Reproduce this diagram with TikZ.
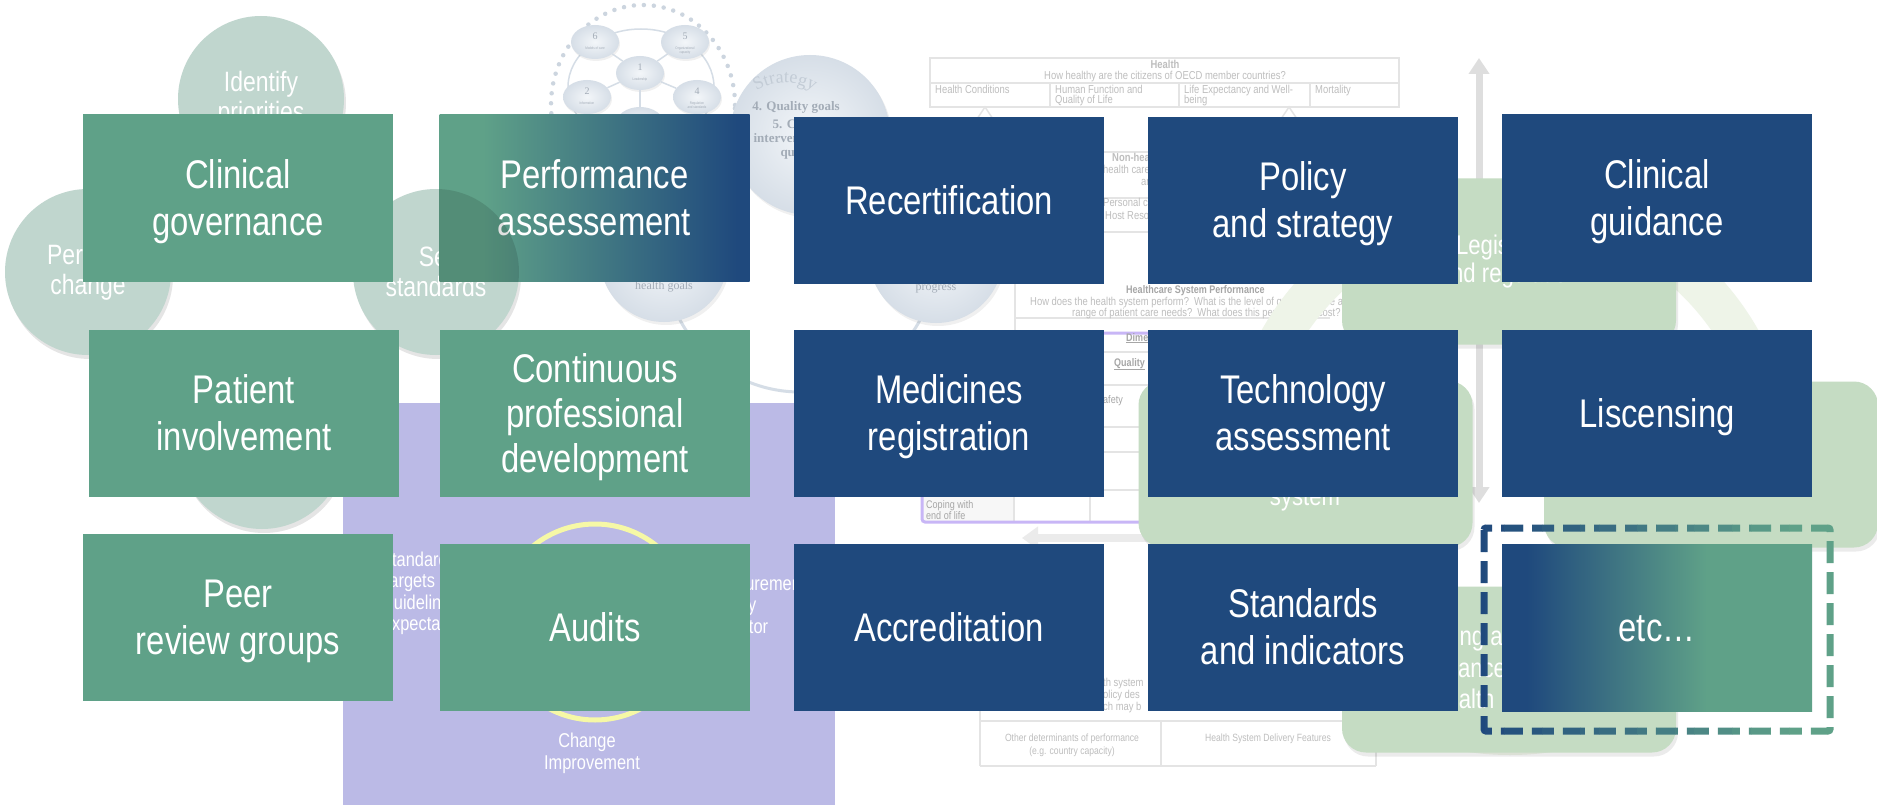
\documentclass[tikz,border=0pt]{standalone}
\usepackage{fontspec}
\setmainfont{Liberation Sans}[FakeStretch=0.82]
\newfontfamily\serifw{Liberation Serif}
\usetikzlibrary{arrows.meta,decorations.text,shadows,shapes.geometric}

\definecolor{mygreen}{HTML}{5FA188}
\definecolor{myblue}{HTML}{1F497D}
\definecolor{circg}{HTML}{C0D6CE}
\definecolor{lav}{HTML}{BBBAE6}
\definecolor{yring}{HTML}{F6F8A6}
\definecolor{legg}{HTML}{C5DCC3}
\definecolor{paleg}{HTML}{EEF4E8}
\definecolor{whoin}{HTML}{F3F6F9}
\definecolor{whoout}{HTML}{D6DEE7}
\definecolor{whoring}{HTML}{D5DDE6}
\definecolor{whodot}{HTML}{CCD5DF}
\definecolor{whotxt}{HTML}{A3ACB7}
\definecolor{whostr}{HTML}{C3CCD6}
\definecolor{purp}{HTML}{C8B6F6}
\definecolor{tline}{HTML}{E4E4E4}
\definecolor{ttxt}{HTML}{BEBEBE}
\definecolor{ptxt}{HTML}{A6A6A6}
\definecolor{arrowg}{HTML}{DEDEDE}

\newcommand{\mystrut}{\rule[-0.212em]{0pt}{1.117em}}

\pgfdeclarehorizontalshading{perfshade}{100bp}{color(0bp)=(mygreen); color(32bp)=(mygreen); color(73bp)=(myblue); color(100bp)=(myblue)}
\pgfdeclarehorizontalshading{etcshade}{100bp}{color(0bp)=(myblue); color(29bp)=(myblue); color(58bp)=(mygreen); color(100bp)=(mygreen)}

\begin{document}
\begin{tikzpicture}[x=1pt,y=-1pt,
 tile/.style={minimum width=310pt, minimum height=167pt, inner sep=0pt, align=center, text=white, font=\fontsize{40}{47}\selectfont},
 greentile/.style={tile, fill=mygreen},
 bluetile/.style={tile, fill=myblue},
 cyc/.style={circle, fill=circg, minimum size=166pt, inner sep=0pt, align=center, text=white, font=\fontsize{28}{30}\selectfont, drop shadow={shadow xshift=2pt, shadow yshift=-4pt, opacity=0.10, fill=black}},
 softrect/.style={rounded corners=24pt, fill=legg, inner sep=0pt, minimum width=334pt, minimum height=166pt, align=center, text=white, font=\fontsize{27}{28}\selectfont, drop shadow={shadow xshift=2pt, shadow yshift=-4pt, opacity=0.08, fill=black}},
 rtxt/.style={text=white, font=\fontsize{27}{28}\selectfont, inner sep=0pt},
 lavtxt/.style={text=white, font=\fontsize{20}{22}\selectfont, inner sep=0pt},
 tbl/.style={tline, line width=1.5pt},
 tbltxt/.style={text=ttxt, font=\fontsize{11.5}{12}\selectfont, inner sep=0pt},
 ptbltxt/.style={text=ptxt, font=\fontsize{11}{12}\selectfont, inner sep=0pt},
 whosmall/.style={ellipse, minimum width=48pt, minimum height=34pt, inner sep=0pt, shading=radial, inner color=whoin, outer color=whoout, drop shadow={shadow xshift=1pt, shadow yshift=-2pt, opacity=0.06, fill=black}},
 whonum/.style={text=whotxt, font=\serifw\fontsize{10}{10}\selectfont, inner sep=0pt, anchor=base},
 wholab/.style={text=whotxt, font=\fontsize{3.6}{4.2}\selectfont, inner sep=0pt, anchor=north, align=center},
 whobig/.style={circle, inner sep=0pt, shading=radial, inner color=whoin, outer color=whoout, drop shadow={shadow xshift=2pt, shadow yshift=-3pt, opacity=0.06, fill=black}},
 whotext/.style={text=whotxt, font=\serifw\bfseries\fontsize{13}{14}\selectfont, inner sep=0pt},
]
\useasboundingbox (0,0) rectangle (1877,805);
\fill[white] (0,0) rectangle (1877,805);
\begin{scope}
\clip (0,0) rectangle (1877,805);

% ---------- left cycle of circles
\node[cyc] (cyc1) at (261,99) {Identify\\priorities};
\node[cyc] (cyc2) at (88,272) {Perform\\change};
\node[cyc] (cyc3) at (436,272) {Set\\standards};
\node[cyc] (cyc4) at (262,446) {};

% ---------- lavender panel
\fill[lav] (343,403) rectangle (835,805);
\draw[yring, line width=5pt] (595,622) circle (98pt);
\foreach \t/\yy [count=\k] in {Standards/566, Targets/587, Guidelines/609, Expectations/630}
  \node[lavtxt, anchor=base west] (lavl\k) at (381,\yy) {\t};
\foreach \t/\yy [count=\k] in {Measurement/590, Quality/611, Indicator/633}
  \node[lavtxt, anchor=base west] (lavr\k) at (705,\yy) {\t};
\node[lavtxt, anchor=base] (chg) at (587,747) {Change};
\node[lavtxt, anchor=base] (imp) at (592,769) {Improvement};

% ---------- WHO strategy diagram
\draw[whoring, line width=3pt] (800,256) circle (136pt);
\draw[whodot, line width=4.5pt, line cap=round, dash pattern=on 0pt off 10pt] (643,105) ellipse [x radius=92pt, y radius=100pt];
\draw[whoring, line width=1.5pt] (641,87) ellipse [x radius=73pt, y radius=58pt];
\foreach \nm/\px/\py in {w1/640/73, w6/595/42, w5/685/42, w2/587/97, w4/697/97, w3/640/124}
  \node[whosmall] (\nm) at (\px,\py) {};
\foreach \n in {w6,w5,w2,w4,w3} \draw[whoring, line width=1.5pt] (w1) -- (\n);
\foreach \nm/\num/\lab in {w1/1/Leadership, w6/6/Models of care, w5/5/{Organizational\\capacity}, w2/2/Information, w4/4/{Regulation\\and standards}}{
  \node[whonum] (\nm n) at ([yshift=2.5pt]\nm.center) {\num};
  \node[wholab] (\nm l) at ([yshift=-4.5pt]\nm.center) {\lab};
}
\node[whonum] (w3n) at ([yshift=-2pt]w3.center) {3};

\node[whobig, minimum size=160pt] (strat) at (810,135) {};
\path[decorate, decoration={text along path, text={|\serifw\fontsize{18}{18}\selectfont|Strategy}, text color=whostr, text align=center}] (738.2,110) arc[start angle=150, end angle=30, radius=54pt];
\node[whotext, anchor=base] (q4) at (796,111) {4. Quality goals};
\node[whotext, anchor=base] (q5) at (800,129) {5. Choose};
\node[whotext, anchor=base] (q5b) at (800,143) {interventions for};
\node[whotext, anchor=base] (q5c) at (800,157) {quality};

\node[whobig, minimum size=128pt] (hg) at (664,258) {};
\node[whotext, anchor=base] (hg1) at (655,254) {2. Situational analysis};
\node[whotext, anchor=base] (hg2) at (655,271) {3. Contextualise national};
\node[whotext, anchor=base, font=\serifw\fontsize{12}{14}\selectfont] (hg3) at (664,289) {health goals};
\node[whobig, minimum size=134pt] (prog) at (936,256) {};
\node[whotext, anchor=base, font=\serifw\fontsize{12}{14}\selectfont] (progt) at (936,290) {progress};

% ---------- OECD framework
\draw[tbl] (930,58) rectangle (1399,107);
\draw[tbl] (930,83) -- (1399,83) (1050,83) -- (1050,107) (1179,83) -- (1179,107) (1310,83) -- (1310,107);
\draw[tbl] (977,119) -- (985,107) -- (993,119) (985,119) -- (985,150);
\draw[tbl] (1281,119) -- (1289,107) -- (1297,119) (1289,119) -- (1289,150);
\node[tbltxt, anchor=base] (oh1) at (1165,69) {\bfseries Health};
\node[tbltxt, anchor=base] (oh2) at (1165,80) {How healthy are the citizens of OECD member countries?};
\node[tbltxt, anchor=base west] (oc1) at (935,94) {Health Conditions};
\node[tbltxt, anchor=base west] (oc2) at (1055,94) {Human Function and};
\node[tbltxt, anchor=base west] (oc2b) at (1055,104) {Quality of Life};
\node[tbltxt, anchor=base west] (oc3) at (1184,94) {Life Expectancy and Well-};
\node[tbltxt, anchor=base west] (oc3b) at (1184,104) {being};
\node[tbltxt, anchor=base west] (oc4) at (1315,94) {Mortality};

\draw[tbl] (1090,152) -- (1200,152) (1090,198) -- (1200,198) (1090,232) -- (1200,232);
\node[tbltxt, anchor=base west] (nh1) at (1112,162) {\bfseries Non-health care};
\node[tbltxt, anchor=base west] (nh2) at (1103,174) {health care};
\node[tbltxt, anchor=base west] (nh3) at (1141,186) {and};
\node[tbltxt, anchor=base west] (nh4) at (1103,207) {Personal characteristics};
\node[tbltxt, anchor=base west] (nh5) at (1105,220) {Host Resources};

\draw[tbl] (1015,270) -- (1015,333) (1015,318) -- (1330,318);
\node[ptbltxt, anchor=base west] (hs1) at (1126,293) {\bfseries Healthcare System Performance};
\node[tbltxt, anchor=base west] (hs2) at (1030,305) {How does the health system perform?\ \ What is the level of quality of care across the};
\node[tbltxt, anchor=base west] (hs3) at (1072,316) {range of patient care needs?\ \ What does this performance cost?};

\fill[black!3] (922,352) rectangle (1014,522);
\draw[tbl] (1014,333) -- (1014,522) (1090,352) -- (1090,522);
\draw[tbl] (922,352) -- (1252,352) (922,385) -- (1252,385) (922,427) -- (1252,427) (922,452) -- (1252,452) (922,490) -- (1252,490);
\draw[purp, line width=3pt, rounded corners=3pt] (922,333) rectangle (1252,522);
\node[ptbltxt, anchor=base west] (dm) at (1126,341) {\bfseries\underline{Dimensions of Health Care Performance}};
\node[ptbltxt, anchor=base west] (ql) at (1114,366) {\bfseries\underline{Quality}};
\node[ptbltxt, anchor=base west] (sf) at (1097,403) {Safety};
\node[ptbltxt, anchor=base west] (cp1) at (926,508) {Coping with};
\node[ptbltxt, anchor=base west] (cp2) at (926,519) {end of life};

\draw[tbl] (980,670) -- (980,766) (980,721) -- (1376,721) (980,766) -- (1376,766) (1376,721) -- (1376,766) (1161,721) -- (1161,766);
\node[tbltxt, anchor=base west] (bt1) at (1103,686) {th system};
\node[tbltxt, anchor=base west] (bt2) at (1103,698) {olicy des};
\node[tbltxt, anchor=base west] (bt3) at (1103,710) {ch may b};
\node[tbltxt, anchor=base, font=\fontsize{10.5}{11}\selectfont] (od1) at (1072,741) {Other determinants of performance};
\node[tbltxt, anchor=base, font=\fontsize{10.5}{11}\selectfont] (od2) at (1072,754) {(e.g. country capacity)};
\node[tbltxt, anchor=base, font=\fontsize{10.5}{11}\selectfont] (od3) at (1268,741) {Health System Delivery Features};

% ---------- right: ring, arrows, green panels
\draw[paleg, line width=40pt] (1510,470) circle (265pt);
\coordinate (vtop) at (1479,58);
\coordinate (vbot) at (1479,503);
\draw[arrowg, line width=7pt, {Triangle[width=20pt,length=16pt]}-{Triangle[width=20pt,length=16pt]}] (vtop) -- (vbot);
\coordinate (hstart) at (1150,538);
\coordinate (hend) at (1022,538);
\draw[black!8, line width=8pt, -{Triangle[width=22pt,length=16pt]}] (hstart) -- (hend);

\node[softrect] (leg) at (1509,261.5) {Legislation\\and regulation};
\node[softrect] (sysr) at (1305.5,464) {};
\node[rtxt, anchor=base] (syst) at (1305,505) {system};
\node[softrect] (rr) at (1711,464.5) {};
\node[softrect] (mon) at (1509,669.5) {};
\node[rtxt, anchor=base west] (mon1) at (1447,645) {ring and};
\node[rtxt, anchor=base west] (mon2) at (1448,677) {llance};
\node[rtxt, anchor=base west] (mon3) at (1434,708) {health};

% ---------- main tiles
\node[greentile] (cg) at (238,198) {\mystrut Clinical\\\mystrut governance};
\node[tile, shading=perfshade] (pa) at (594.5,198) {\mystrut Performance\\\mystrut assessement};
\begin{scope}
  \clip (439,115) rectangle (750,281);
  \fill[black, opacity=0.12] (436,272) circle (83pt);
\end{scope}
\node[bluetile] (rc) at (949,200.5) {\mystrut Recertification};
\node[bluetile] (ps) at (1303,200.5) {\mystrut Policy\\\mystrut and strategy};
\node[bluetile] (cgd) at (1657,198) {\mystrut Clinical\\\mystrut guidance};

\node[greentile] (pi) at (244,413.5) {\mystrut Patient\\\mystrut involvement};
\node[greentile, font=\fontsize{40}{45}\selectfont] (cpd) at (595,413.5) {\mystrut Continuous\\\mystrut professional\\\mystrut development};
\node[bluetile] (mr) at (949,413.5) {\mystrut Medicines\\\mystrut registration};
\node[bluetile] (ta) at (1303,413.5) {\mystrut Technology\\\mystrut assessment};
\node[bluetile] (li) at (1657,413.5) {\mystrut Liscensing};

\node[greentile] (prg) at (238,617.5) {\mystrut Peer\\\mystrut review groups};
\node[greentile] (au) at (595,627.5) {\mystrut Audits};
\node[bluetile] (ac) at (949,627.5) {\mystrut Accreditation};
\node[bluetile] (si) at (1303,627.5) {\mystrut Standards\\\mystrut and indicators};
\node[tile, shading=etcshade] (etc) at (1657,627.5) {\mystrut etc…};

% ---------- gradient dashed frame
\coordinate (dA) at (1484,528);
\coordinate (dB) at (1830,731);
\foreach \i in {0,...,19}{
  \pgfmathtruncatemacro\pc{max(0,min(100,(1790-(1475.5+19*\i))/3.06))}
  \begin{scope}
    \clip (1466+19*\i,500) rectangle (1485.3+19*\i,760);
    \draw[myblue!\pc!mygreen, line width=7pt, dash pattern=on 22pt off 9pt, rounded corners=2pt] (dA) rectangle (dB);
  \end{scope}
}
\end{scope}
\end{tikzpicture}
\end{document}
